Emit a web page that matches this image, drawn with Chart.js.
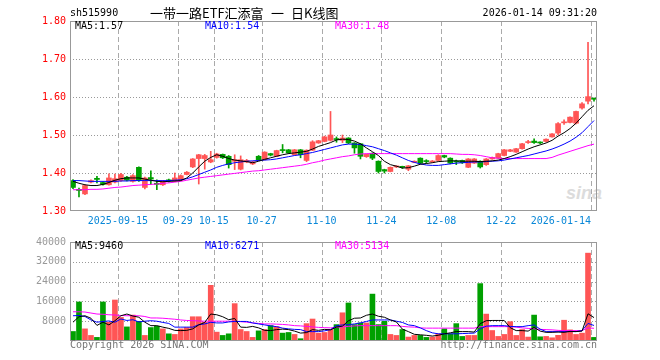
<!DOCTYPE html>
<html>
<head>
<meta charset="utf-8">
<title>sh515990 日K线图</title>
<script src="https://cdn.jsdelivr.net/npm/chart.js"></script>
<style>
  body { margin: 0; background: #fff; }
  #wrap { position: relative; width: 660px; height: 360px; overflow: hidden; }
  canvas { position: absolute; left: 0; }
  .t { position: absolute; font: 10px "DejaVu Sans Mono", monospace; line-height: 10px; white-space: pre; }
  .cjk { position: absolute; font: 13px "Noto Sans CJK SC", sans-serif; line-height: 13px; white-space: pre; color: #000; }
</style>
</head>
<body>
<div id="wrap">
  <div class="t" style="left:566px;top:184px;font:italic bold 18px 'Liberation Sans',sans-serif;line-height:18px;color:#dcdcdc">sina</div>
  <canvas id="kline" width="660" height="232" style="top:0"></canvas>
  <canvas id="vol" width="660" height="128" style="top:232px"></canvas>

  <div class="t" style="left:70px;top:8px;color:#000">sh515990</div>
  <div class="cjk" style="left:150px;top:6px">一带一路ETF汇添富</div>
  <div class="cjk" style="left:271px;top:6px">一</div>
  <div class="cjk" style="left:291px;top:6px">日K线图</div>
  <div class="t" style="right:63px;top:8px;color:#000">2026-01-14 09:31:20</div>

  <div class="t" style="left:75px;top:21px;color:#000">MA5:1.57</div>
  <div class="t" style="left:205px;top:21px;color:#0000ff">MA10:1.54</div>
  <div class="t" style="left:335px;top:21px;color:#ff00ff">MA30:1.48</div>

  <div class="t" style="left:75px;top:241px;color:#000">MA5:9460</div>
  <div class="t" style="left:205px;top:241px;color:#0000ff">MA10:6271</div>
  <div class="t" style="left:335px;top:241px;color:#ff00ff">MA30:5134</div>

  <div class="t" style="left:70px;top:340px;color:#777">Copyright 2026 SINA.COM</div>
  <div class="t" style="right:63px;top:340px;color:#777">http://finance.sina.com.cn</div>
</div>

<script>
// trading days shown on the chart
var dates = [
  '2025-09-03','2025-09-04','2025-09-05','2025-09-08','2025-09-09','2025-09-10','2025-09-11','2025-09-12',
  '2025-09-15','2025-09-16','2025-09-17','2025-09-18','2025-09-19','2025-09-22','2025-09-23','2025-09-24','2025-09-25','2025-09-26',
  '2025-09-29','2025-09-30','2025-10-09','2025-10-10','2025-10-13','2025-10-14',
  '2025-10-15','2025-10-16','2025-10-17','2025-10-20','2025-10-21','2025-10-22','2025-10-23','2025-10-24',
  '2025-10-27','2025-10-28','2025-10-29','2025-10-30','2025-10-31','2025-11-03','2025-11-04','2025-11-05','2025-11-06','2025-11-07',
  '2025-11-10','2025-11-11','2025-11-12','2025-11-13','2025-11-14','2025-11-17','2025-11-18','2025-11-19','2025-11-20','2025-11-21',
  '2025-11-24','2025-11-25','2025-11-26','2025-11-27','2025-11-28','2025-12-01','2025-12-02','2025-12-03','2025-12-04','2025-12-05',
  '2025-12-08','2025-12-09','2025-12-10','2025-12-11','2025-12-12','2025-12-15','2025-12-16','2025-12-17','2025-12-18','2025-12-19',
  '2025-12-22','2025-12-23','2025-12-24','2025-12-25','2025-12-26','2025-12-29','2025-12-30','2025-12-31',
  '2026-01-05','2026-01-06','2026-01-07','2026-01-08','2026-01-09','2026-01-12','2026-01-13','2026-01-14'
];

var open = [1.380,1.357,1.345,1.376,1.386,1.375,1.369,1.376,1.380,1.389,
  1.378,1.415,1.362,1.388,1.373,1.369,1.382,1.378,1.381,1.396,
  1.416,1.438,1.438,1.429,1.441,1.449,1.444,1.431,1.410,1.429,
  1.424,1.444,1.435,1.451,1.444,1.460,1.461,1.448,1.461,1.433,
  1.460,1.479,1.483,1.486,1.489,1.486,1.492,1.479,1.477,1.443,
  1.452,1.431,1.409,1.404,1.416,1.416,1.410,1.428,1.439,1.431,
  1.429,1.433,1.446,1.439,1.431,1.433,1.415,1.426,1.431,1.422,
  1.437,1.439,1.446,1.457,1.455,1.464,1.480,1.484,1.480,1.483,
  1.495,1.505,1.532,1.533,1.531,1.571,1.589,1.597];
var high = [1.383,1.360,1.369,1.382,1.391,1.377,1.398,1.397,1.399,1.391,
  1.396,1.416,1.389,1.406,1.382,1.380,1.384,1.400,1.395,1.404,
  1.438,1.449,1.449,1.457,1.452,1.450,1.446,1.448,1.445,1.436,
  1.431,1.446,1.456,1.452,1.460,1.475,1.462,1.462,1.462,1.461,
  1.485,1.486,1.497,1.562,1.495,1.500,1.493,1.480,1.478,1.450,
  1.453,1.432,1.410,1.416,1.419,1.418,1.420,1.432,1.440,1.435,
  1.433,1.448,1.447,1.440,1.434,1.434,1.438,1.438,1.432,1.438,
  1.442,1.452,1.462,1.462,1.465,1.478,1.486,1.490,1.482,1.490,
  1.504,1.533,1.540,1.548,1.563,1.585,1.744,1.597];
var low = [1.359,1.337,1.343,1.374,1.374,1.368,1.368,1.374,1.378,1.379,
  1.376,1.378,1.358,1.369,1.356,1.367,1.376,1.377,1.380,1.395,
  1.414,1.371,1.410,1.427,1.439,1.438,1.413,1.409,1.408,1.427,
  1.422,1.433,1.434,1.445,1.443,1.453,1.451,1.447,1.440,1.430,
  1.459,1.478,1.482,1.484,1.481,1.480,1.477,1.452,1.437,1.441,
  1.435,1.400,1.400,1.403,1.414,1.412,1.406,1.427,1.424,1.426,
  1.428,1.431,1.440,1.424,1.422,1.425,1.414,1.425,1.413,1.420,
  1.436,1.438,1.445,1.456,1.454,1.463,1.478,1.478,1.477,1.482,
  1.494,1.500,1.528,1.532,1.529,1.568,1.582,1.589];
var close = [1.362,1.354,1.367,1.380,1.383,1.370,1.387,1.385,1.396,1.381,
  1.393,1.380,1.387,1.384,1.370,1.378,1.379,1.387,1.393,1.402,
  1.437,1.448,1.446,1.435,1.450,1.440,1.422,1.435,1.435,1.433,
  1.429,1.435,1.455,1.447,1.459,1.459,1.453,1.461,1.448,1.460,
  1.482,1.485,1.495,1.500,1.488,1.492,1.479,1.466,1.444,1.449,
  1.439,1.404,1.405,1.415,1.418,1.415,1.419,1.431,1.426,1.430,
  1.431,1.446,1.442,1.426,1.429,1.427,1.437,1.437,1.416,1.437,
  1.441,1.451,1.461,1.461,1.464,1.477,1.482,1.480,1.479,1.489,
  1.503,1.530,1.534,1.547,1.562,1.582,1.601,1.594];

// moving averages as drawn on the chart
var ma5 = [1.378,1.373,1.369,1.367,1.367,1.370,1.375,1.381,1.385,1.387,
  1.387,1.387,1.384,1.381,1.378,1.377,1.378,1.379,1.380,1.387,
  1.400,1.416,1.431,1.441,1.448,1.444,1.438,1.434,1.432,1.430,
  1.427,1.431,1.436,1.440,1.444,1.448,1.451,1.453,1.455,1.457,
  1.463,1.470,1.475,1.480,1.487,1.489,1.488,1.484,1.477,1.466,
  1.456,1.446,1.431,1.422,1.418,1.413,1.414,1.418,1.423,1.425,
  1.427,1.430,1.431,1.432,1.432,1.431,1.431,1.431,1.430,1.431,
  1.432,1.434,1.438,1.443,1.449,1.456,1.463,1.469,1.474,1.479,
  1.486,1.497,1.506,1.517,1.531,1.548,1.565,1.577];
var ma10 = [1.380,1.380,1.379,1.378,1.378,1.378,1.378,1.378,1.379,1.379,
  1.380,1.380,1.380,1.380,1.380,1.380,1.380,1.381,1.382,1.385,
  1.390,1.396,1.402,1.408,1.415,1.420,1.424,1.427,1.429,1.431,
  1.432,1.433,1.434,1.435,1.437,1.440,1.443,1.446,1.448,1.451,
  1.454,1.458,1.462,1.466,1.470,1.474,1.476,1.476,1.475,1.472,
  1.469,1.464,1.459,1.453,1.447,1.440,1.433,1.428,1.424,1.421,
  1.420,1.420,1.422,1.424,1.426,1.427,1.428,1.429,1.429,1.430,
  1.431,1.432,1.434,1.437,1.440,1.443,1.446,1.450,1.454,1.458,
  1.463,1.469,1.476,1.484,1.494,1.506,1.522,1.538];
var ma30 = [1.356,1.356,1.356,1.357,1.357,1.358,1.360,1.362,1.363,1.365,
  1.367,1.368,1.369,1.370,1.371,1.373,1.374,1.376,1.378,1.381,
  1.384,1.387,1.389,1.391,1.393,1.395,1.397,1.399,1.401,1.403,
  1.405,1.406,1.408,1.410,1.412,1.414,1.416,1.418,1.420,1.423,
  1.427,1.430,1.434,1.437,1.440,1.443,1.445,1.448,1.450,1.451,
  1.451,1.451,1.451,1.451,1.451,1.451,1.451,1.451,1.451,1.451,
  1.451,1.451,1.451,1.451,1.450,1.449,1.449,1.448,1.446,1.443,
  1.440,1.439,1.438,1.438,1.438,1.438,1.438,1.438,1.438,1.438,
  1.441,1.447,1.452,1.457,1.462,1.467,1.472,1.476];

// volume (lots) and its moving averages
var volume = [3840,15770,4900,2250,1460,15770,7550,16560,9540,5700,
  10470,7950,2250,5430,5960,4900,2900,2650,4900,5430,
  9800,9800,7550,22500,3580,2250,2900,15100,4640,3840,
  1460,4100,4640,6230,5830,3180,3450,2650,930,7020,
  8880,3180,3450,4640,6630,11400,15370,6630,7290,7290,
  18950,6630,7950,2650,2250,4640,1590,2250,2250,1460,
  1590,2900,4900,2900,7020,1850,2250,2250,23190,10870,
  4240,1850,2650,7820,2250,4640,1590,10470,1700,1850,
  1300,2300,8400,4500,2650,3180,35500,1460];
var volMa5 = [7600,9800,10200,9200,6300,7600,6500,8200,10200,10900,
  10100,9600,7600,6200,6200,5600,5100,4300,4200,4300,
  4900,6500,7500,10900,10600,9800,8600,9100,5600,5500,
  5900,5300,4300,4200,4600,4800,4600,4000,3200,3400,
  4600,4300,4700,4500,5600,6000,8200,9200,9300,10400,
  10900,10000,9600,8500,7700,4800,3800,2700,2500,2300,
  2000,2300,2900,3300,3800,3800,3800,3600,7000,8200,
  8300,8300,8300,5400,4200,4200,4000,5500,4000,3500,
  3500,3600,3500,3900,3800,4000,11000,9460];
var volMa10 = [10200,10300,9900,8500,7600,7900,8100,7600,8900,8300,
  8600,7700,8000,8200,8000,7500,7100,5600,5600,5600,
  5600,6600,6900,7550,7300,7300,7700,7900,7900,7900,
  7300,6900,6500,6100,5800,5200,4900,4700,4600,3800,
  3800,3800,4100,4600,6200,6500,6600,6900,7300,7900,
  8500,8500,8500,8500,8000,7500,6500,6200,5300,4200,
  3300,2900,2900,2900,2900,3000,3100,3200,4900,6000,
  6200,6200,6200,5900,5800,5800,6200,6500,4800,3800,
  3800,3800,3800,3800,3800,4200,7100,6271];
var volMa30 = [11800,11800,11700,11300,10900,10800,10600,10500,10300,10200,
  10200,10200,9900,9300,9300,9200,9000,8800,8500,8300,
  8200,8100,8000,8000,8000,8000,8000,7950,7800,7600,
  7300,7100,6900,6900,6800,6700,6500,6200,6100,5900,
  5700,5500,5400,5300,5500,5700,5900,6100,6200,6200,
  6200,6200,6200,6200,6200,5900,5700,5600,5300,5200,
  5200,5200,5200,5200,5200,5200,5200,5200,5800,5800,
  5800,5800,5800,5800,5600,5300,5100,4900,4700,4600,
  4500,4300,4200,4200,4200,4200,5300,5134];

// dates that get a label and a dashed grid line
var tickDates = ['2025-09-15','2025-09-29','2025-10-15','2025-10-27','2025-11-10','2025-11-24','2025-12-08','2025-12-22','2026-01-14'];
var tickLabels = ['2025-09-15','09-29','10-15','10-27','11-10','11-24','12-08','12-22','2026-01-14          '];
var priceTicks = [1.30, 1.40, 1.50, 1.60, 1.70, 1.80];
var volTicks = [0, 8000, 16000, 24000, 32000, 40000];

var UP = '#ff5555', DOWN = '#00a000';
var colors = close.map(function (c, i) { return c >= open[i] ? UP : DOWN; });

Chart.defaults.font.family = '"DejaVu Sans Mono", monospace';
Chart.defaults.font.size = 10;

// dotted horizontal + dashed vertical grid, then a grey frame
var panelGrid = {
  id: 'panelGrid',
  beforeDatasetsDraw: function (chart, args, opts) {
    var a = chart.chartArea, c = chart.ctx, xs = chart.scales.x, ys = chart.scales.y;
    c.save();
    c.lineWidth = 1;
    c.strokeStyle = '#999';
    c.setLineDash([1, 2]);
    opts.yTicks.forEach(function (v) {
      var py = Math.round(ys.getPixelForValue(v)) + 0.5;
      if (py > a.top + 2 && py < a.bottom - 2) {
        c.beginPath(); c.moveTo(a.left, py); c.lineTo(a.right, py); c.stroke();
      }
    });
    c.strokeStyle = '#aaa';
    c.setLineDash([5, 3]);
    var half = (xs.getPixelForValue(1) - xs.getPixelForValue(0)) / 2;
    tickDates.forEach(function (d) {
      var i = dates.indexOf(d);
      var px = Math.round(xs.getPixelForValue(i) - half) + 0.5;
      c.beginPath(); c.moveTo(px, a.top); c.lineTo(px, a.bottom); c.stroke();
    });
    c.restore();
  },
  afterDraw: function (chart) {
    var a = chart.chartArea, c = chart.ctx;
    c.save();
    c.strokeStyle = '#999';
    c.lineWidth = 1;
    c.strokeRect(Math.round(a.left) + 0.5, Math.round(a.top) + 0.5,
      Math.round(a.right - a.left) - 1, Math.round(a.bottom - a.top) - 1);
    c.restore();
  }
};

function xScale(showLabels, h) {
  return {
    offset: true,
    grid: { display: false, offset: true, drawTicks: false },
    border: { display: false },
    ticks: {
      display: showLabels,
      autoSkip: false,
      maxRotation: 0,
      padding: 4,
      labelOffset: -3,
      color: '#0a88d8',
      callback: function (v, i) {
        var k = tickDates.indexOf(dates[i]);
        return k >= 0 ? tickLabels[k] : '';
      }
    },
    afterFit: function (s) { s.height = h; }
  };
}

function lineSet(data, color) {
  return { type: 'line', data: data, borderColor: color, borderWidth: 1,
    pointRadius: 0, tension: 0, order: 0 };
}

new Chart(document.getElementById('kline'), {
  type: 'bar',
  data: {
    labels: dates,
    datasets: [
      lineSet(ma5, '#000000'),
      lineSet(ma10, '#0000ff'),
      lineSet(ma30, '#ff00ff'),
      { data: dates.map(function (d, i) { return [open[i], close[i]]; }),
        backgroundColor: colors, barThickness: 5, minBarLength: 1, grouped: false, order: 1 },
      { data: dates.map(function (d, i) { return [low[i], high[i]]; }),
        backgroundColor: colors, barThickness: 1, grouped: false, order: 2 }
    ]
  },
  options: {
    responsive: false,
    animation: false,
    devicePixelRatio: 1,
    layout: { padding: { top: 21, right: 63, left: 0, bottom: 0 } },
    plugins: { legend: { display: false }, tooltip: { enabled: false }, panelGrid: { yTicks: priceTicks } },
    scales: {
      x: xScale(true, 21),
      y: {
        min: priceTicks[0], max: priceTicks[priceTicks.length - 1],
        afterBuildTicks: function (s) { s.ticks = priceTicks.map(function (v) { return { value: v }; }); },
        ticks: { color: '#ff0000', padding: 4, callback: function (v) { return Number(v).toFixed(2); } },
        grid: { display: false, drawTicks: false },
        border: { display: false },
        afterFit: function (s) { s.width = 70; }
      }
    }
  },
  plugins: [panelGrid]
});

new Chart(document.getElementById('vol'), {
  type: 'bar',
  data: {
    labels: dates,
    datasets: [
      lineSet(volMa5, '#000000'),
      lineSet(volMa10, '#0000ff'),
      lineSet(volMa30, '#ff00ff'),
      { data: volume, backgroundColor: colors, barThickness: 5, grouped: false, order: 1 }
    ]
  },
  options: {
    responsive: false,
    animation: false,
    devicePixelRatio: 1,
    layout: { padding: { top: 8, right: 63, left: 0, bottom: 0 } },
    plugins: { legend: { display: false }, tooltip: { enabled: false }, panelGrid: { yTicks: volTicks } },
    scales: {
      x: xScale(false, 19),
      y: {
        min: volTicks[0], max: volTicks[volTicks.length - 1],
        afterBuildTicks: function (s) { s.ticks = volTicks.map(function (v) { return { value: v }; }); },
        ticks: { color: '#999', padding: 4, callback: function (v) { return v === 0 ? '' : String(v); } },
        grid: { display: false, drawTicks: false },
        border: { display: false },
        afterFit: function (s) { s.width = 70; }
      }
    }
  },
  plugins: [panelGrid]
});
</script>
</body>
</html>
